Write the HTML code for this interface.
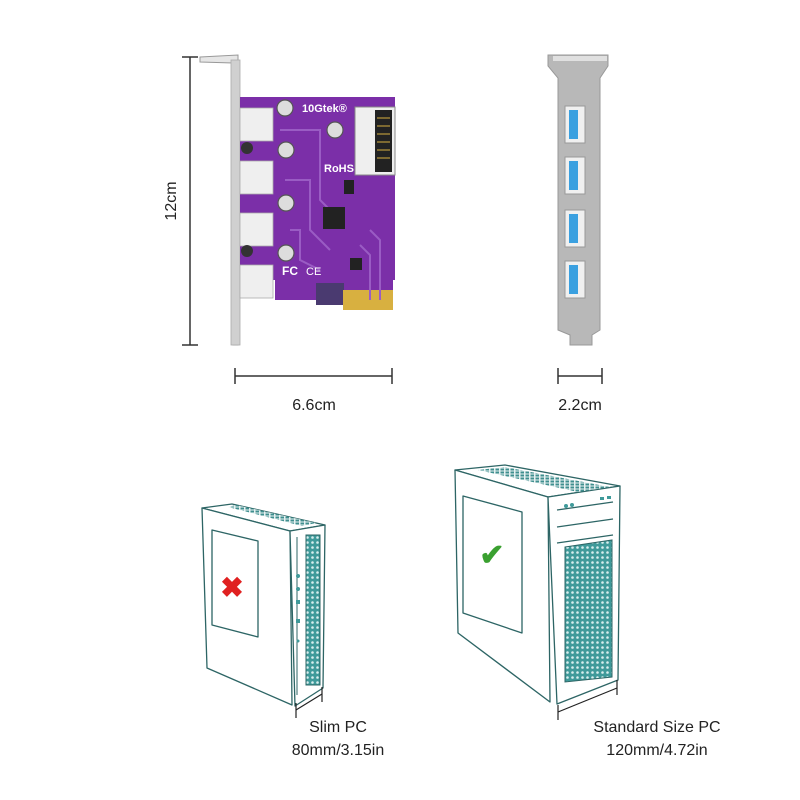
<!DOCTYPE html>
<html><head><meta charset="utf-8"><style>
html,body{margin:0;padding:0;background:#fff;}
svg{display:block;}
text{font-family:"Liberation Sans",Arial,sans-serif;fill:#222;}
</style></head><body>
<svg width="800" height="800" viewBox="0 0 800 800" xmlns="http://www.w3.org/2000/svg">
<defs>
<pattern id="mesh" width="5" height="5" patternUnits="userSpaceOnUse">
<rect width="5" height="5" fill="#3f9a9a"/>
<circle cx="2.5" cy="2.5" r="1.3" fill="#d8eeee"/>
</pattern>
<pattern id="vent" width="5" height="3" patternUnits="userSpaceOnUse">
<rect width="5" height="3" fill="#e8f2f2"/>
<rect x="0.5" y="0.5" width="3.5" height="2" fill="#3f8f8f"/>
</pattern>
</defs>

<g stroke="#333" stroke-width="1.5">
<line x1="190" y1="57" x2="190" y2="345"/>
<line x1="182" y1="57" x2="198" y2="57"/>
<line x1="182" y1="345" x2="198" y2="345"/>
<line x1="235" y1="376" x2="392" y2="376"/>
<line x1="235" y1="368" x2="235" y2="384"/>
<line x1="392" y1="368" x2="392" y2="384"/>
<line x1="558" y1="376" x2="602" y2="376"/>
<line x1="558" y1="368" x2="558" y2="384"/>
<line x1="602" y1="368" x2="602" y2="384"/>
</g>
<text x="176" y="201" font-size="16" text-anchor="middle" transform="rotate(-90 176 201)">12cm</text>
<text x="314" y="410" font-size="16" text-anchor="middle">6.6cm</text>
<text x="580" y="410" font-size="16" text-anchor="middle">2.2cm</text>

<polygon points="200,57 238,55 238,345 233,345 233,63 200,62" fill="#e6e6e6" stroke="#999" stroke-width="1"/>
<rect x="231" y="60" width="9" height="285" fill="#d0d0d0" stroke="#aaa" stroke-width="0.8"/>
<polygon points="240,97 395,97 395,280 393,280 393,310 343,310 343,285 318,285 318,300 275,300 275,280 240,280" fill="#7b2fa8"/>
<rect x="316" y="283" width="28" height="22" fill="#4a3a70"/>
<rect x="343" y="290" width="50" height="20" fill="#d8b040"/>
<g stroke="#9a5cc4" stroke-width="2" fill="none">
<path d="M280,130 L320,130 L320,200 L340,220"/><path d="M285,180 L310,180 L310,230 L330,250"/>
<path d="M290,230 L300,230 L300,260 L320,270"/><path d="M370,230 L380,240 L380,300"/><path d="M360,245 L370,255 L370,300"/>
</g>
<g fill="#efefef" stroke="#aaa" stroke-width="0.8">
<rect x="240" y="108" width="33" height="33"/><rect x="240" y="161" width="33" height="33"/>
<rect x="240" y="213" width="33" height="33"/><rect x="240" y="265" width="33" height="33"/>
</g>
<g fill="#ddd" stroke="#555" stroke-width="1.2">
<circle cx="285" cy="108" r="8"/><circle cx="286" cy="150" r="8"/><circle cx="286" cy="203" r="8"/><circle cx="286" cy="253" r="8"/><circle cx="335" cy="130" r="8"/>
</g>
<circle cx="247" cy="148" r="6" fill="#333"/><circle cx="247" cy="251" r="6" fill="#333"/>
<rect x="355" y="107" width="40" height="68" fill="#efefef" stroke="#888"/>
<rect x="375" y="110" width="17" height="62" fill="#222"/>
<g stroke="#d8b040" stroke-width="1"><line x1="377" y1="118" x2="390" y2="118"/><line x1="377" y1="126" x2="390" y2="126"/><line x1="377" y1="134" x2="390" y2="134"/><line x1="377" y1="142" x2="390" y2="142"/><line x1="377" y1="150" x2="390" y2="150"/><line x1="377" y1="158" x2="390" y2="158"/></g>
<rect x="323" y="207" width="22" height="22" fill="#222"/>
<rect x="344" y="180" width="10" height="14" fill="#222"/>
<rect x="350" y="258" width="12" height="12" fill="#222"/>
<text x="302" y="112" font-size="11" font-weight="bold" style="fill:#fff">10Gtek®</text>
<text x="324" y="172" font-size="11" font-weight="bold" style="fill:#fff">RoHS</text>
<text x="282" y="275" font-size="12" font-weight="bold" style="fill:#fff">FC</text>
<text x="306" y="275" font-size="11" style="fill:#fff">CE</text>

<polygon points="548,55 608,55 608,66 600,78 600,330 592,335 592,345 570,345 570,335 558,330 558,78 548,66" fill="#b8b8b8" stroke="#999"/>
<rect x="553" y="56" width="54" height="5" fill="#e0e0e0"/>
<g fill="#f0f0f0" stroke="#999">
<rect x="565" y="106" width="20" height="37"/><rect x="565" y="157" width="20" height="37"/>
<rect x="565" y="210" width="20" height="37"/><rect x="565" y="261" width="20" height="37"/>
</g>
<g fill="#3aa0e0">
<rect x="569" y="110" width="9" height="29"/><rect x="569" y="161" width="9" height="29"/>
<rect x="569" y="214" width="9" height="29"/><rect x="569" y="265" width="9" height="29"/>
</g>

<g stroke="#2d6565" stroke-width="1.3" fill="#fff" stroke-linejoin="round">
<polygon points="202,508 232,504 325,525 290,531"/>
<polygon points="202,508 290,531 292,705 207,668"/>
<polygon points="290,531 325,525 323,688 295,706"/>
<polygon points="212,530 258,541 258,637 212,625"/>
</g>
<polygon points="228,507 236,505 316,523 302,526" fill="url(#vent)"/>
<rect x="306" y="535" width="14" height="150" fill="url(#mesh)" stroke="#2d6565"/>
<line x1="297" y1="537" x2="297" y2="695" stroke="#2d6565" stroke-width="1"/>
<g fill="#3f9a9a"><circle cx="298" cy="576" r="2"/><circle cx="298" cy="589" r="2"/><rect x="296" y="600" width="4" height="4"/><rect x="296" y="619" width="4" height="4"/><circle cx="298" cy="641" r="1.5"/></g>
<text x="232" y="597" font-size="28" font-weight="bold" text-anchor="middle" style="fill:#e02020">✖</text>
<g stroke="#222" stroke-width="1.2"><line x1="296" y1="710" x2="322" y2="694"/><line x1="296" y1="703" x2="296" y2="718"/><line x1="322" y1="687" x2="322" y2="702"/></g>
<text x="338" y="732" font-size="16" text-anchor="middle">Slim PC</text>
<text x="338" y="755" font-size="16" text-anchor="middle">80mm/3.15in</text>

<g stroke="#2d6565" stroke-width="1.3" fill="#fff" stroke-linejoin="round">
<polygon points="455,470 505,465 620,486 548,497"/>
<polygon points="455,470 548,497 550,702 458,633"/>
<polygon points="548,497 620,486 618,680 557,704"/>
<polygon points="463,496 522,512 522,633 463,613"/>
<line x1="557" y1="510" x2="613" y2="502"/>
<line x1="557" y1="527" x2="613" y2="519"/>
<line x1="557" y1="543" x2="613" y2="535"/>
</g>
<polygon points="478,470 505,467 610,487 578,492" fill="url(#vent)"/>
<polygon points="565,547 612,540 612,677 565,682" fill="url(#mesh)" stroke="#2d6565"/>
<g fill="#3f9a9a"><circle cx="566" cy="506" r="2"/><circle cx="572" cy="505" r="2"/><rect x="600" y="497" width="4" height="3"/><rect x="607" y="496" width="4" height="3"/></g>
<text x="492" y="565" font-size="30" font-weight="bold" text-anchor="middle" style="fill:#3aa030">✔</text>
<g stroke="#222" stroke-width="1.2"><line x1="558" y1="712" x2="617" y2="688"/><line x1="558" y1="705" x2="558" y2="720"/><line x1="617" y1="680" x2="617" y2="695"/></g>
<text x="657" y="732" font-size="16" text-anchor="middle">Standard Size PC</text>
<text x="657" y="755" font-size="16" text-anchor="middle">120mm/4.72in</text>
</svg>
</body></html>
